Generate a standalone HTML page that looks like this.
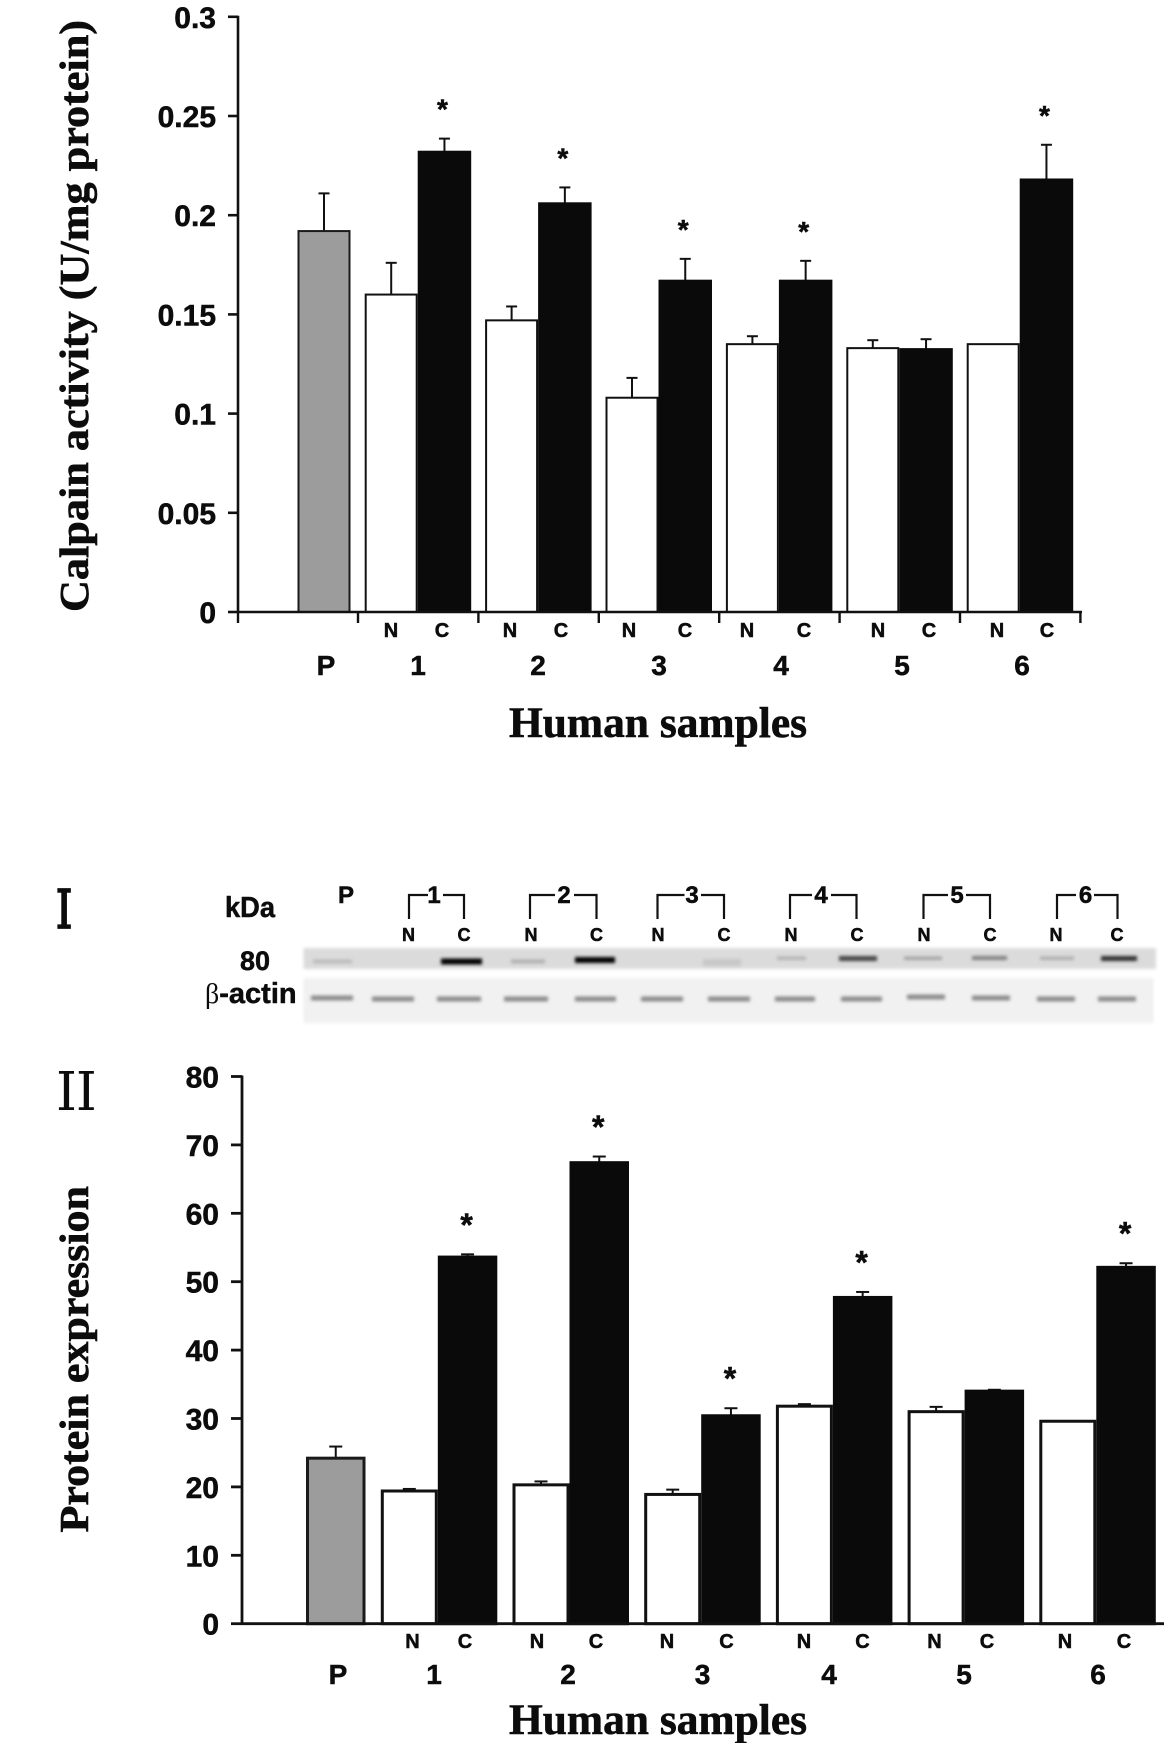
<!DOCTYPE html>
<html lang="en">
<head>
<meta charset="utf-8">
<title>Calpain activity and protein expression in human samples</title>
<style>
html,body{margin:0;padding:0;background:#fff;}
svg{display:block;}
text{fill:#0c0c0c;}
.sans{font-family:"Liberation Sans",Arial,sans-serif;font-weight:bold;stroke:#0c0c0c;stroke-width:.5px;}
.serif{font-family:"Liberation Serif","Times New Roman",serif;font-weight:bold;stroke:#0c0c0c;stroke-width:.6px;}
.tick{font-size:30px;text-anchor:end;}
.nc{font-size:20px;text-anchor:middle;}
.num{font-size:28px;text-anchor:middle;}
.bn{font-size:18px;text-anchor:middle;}
.bt{font-size:24px;text-anchor:middle;}
.bracket{fill:none;stroke:#111;stroke-width:2.2;}
</style>
</head>
<body>
<svg id="figure" xmlns="http://www.w3.org/2000/svg" width="1169" height="1743" viewBox="0 0 1169 1743">
  <defs>
    <filter id="soft" x="-20%" y="-300%" width="140%" height="700%"><feGaussianBlur stdDeviation="1.7"/></filter>
    <filter id="edge" x="-2%" y="-20%" width="104%" height="140%"><feGaussianBlur stdDeviation="1.5"/></filter>
  </defs>
  <rect x="0" y="0" width="1169" height="1743" fill="#fff"/>

  <!-- Top chart static labels -->
  <text class="serif" transform="translate(88,612) rotate(-90)" font-size="41" textLength="592" lengthAdjust="spacingAndGlyphs">Calpain activity (U/mg protein)</text>
  <text class="serif" x="509" y="737" font-size="43" textLength="298" lengthAdjust="spacingAndGlyphs">Human samples</text>
  <g class="sans">
    <text class="nc" x="391" y="637">N</text>
    <text class="nc" x="442" y="637">C</text>
    <text class="nc" x="510" y="637">N</text>
    <text class="nc" x="561" y="637">C</text>
    <text class="nc" x="629" y="637">N</text>
    <text class="nc" x="685" y="637">C</text>
    <text class="nc" x="747" y="637">N</text>
    <text class="nc" x="804" y="637">C</text>
    <text class="nc" x="878" y="637">N</text>
    <text class="nc" x="929" y="637">C</text>
    <text class="nc" x="997" y="637">N</text>
    <text class="nc" x="1047" y="637">C</text>
  </g>
  <g class="sans">
    <text class="num" x="326" y="675">P</text>
    <text class="num" x="418" y="675">1</text>
    <text class="num" x="538" y="675">2</text>
    <text class="num" x="659" y="675">3</text>
    <text class="num" x="781" y="675">4</text>
    <text class="num" x="902" y="675">5</text>
    <text class="num" x="1022" y="675">6</text>
  </g>

  <!-- Western blot panel -->
  <text transform="translate(55.8,928) scale(.8,1)" font-family="'DejaVu Serif',serif" font-size="53" stroke="#0c0c0c" stroke-width="1.8">I</text>
  <text x="56" y="1110" font-family="'DejaVu Serif',serif" font-size="53" letter-spacing="-1">II</text>
  <text class="sans" x="225" y="917" font-size="29" textLength="50" lengthAdjust="spacingAndGlyphs">kDa</text>
  <text class="sans bt" x="346" y="903">P</text>
  <g>
    <path class="bracket" d="M409 919V895H428M443 895H464V919"/>
    <path class="bracket" d="M530 919V895H555M574 895H596.5V919"/>
    <path class="bracket" d="M657.5 919V895H684.5M701 895H724V919"/>
    <path class="bracket" d="M790 919V895H812M831 895H856.5V919"/>
    <path class="bracket" d="M923.5 919V895H948M966 895H990V919"/>
    <path class="bracket" d="M1057 919V895H1076M1094 895H1117.5V919"/>
  </g>
  <g class="sans">
    <text class="bt" x="434" y="903">1</text>
    <text class="bt" x="564" y="903">2</text>
    <text class="bt" x="692" y="903">3</text>
    <text class="bt" x="821" y="903">4</text>
    <text class="bt" x="957" y="903">5</text>
    <text class="bt" x="1085.5" y="903">6</text>
  </g>
  <g class="sans">
    <text class="bn" x="408.5" y="941">N</text>
    <text class="bn" x="464" y="941">C</text>
    <text class="bn" x="531" y="941">N</text>
    <text class="bn" x="596.5" y="941">C</text>
    <text class="bn" x="658" y="941">N</text>
    <text class="bn" x="724" y="941">C</text>
    <text class="bn" x="791" y="941">N</text>
    <text class="bn" x="857" y="941">C</text>
    <text class="bn" x="924" y="941">N</text>
    <text class="bn" x="990" y="941">C</text>
    <text class="bn" x="1056" y="941">N</text>
    <text class="bn" x="1117" y="941">C</text>
  </g>
  <text class="sans" x="240" y="970" font-size="27">80</text>
  <text x="205" y="1003"><tspan font-family="'Liberation Serif',serif" font-size="28">β</tspan><tspan class="sans" font-size="29">-actin</tspan></text>

  <g>
    <rect x="303.5" y="948" width="852.5" height="21" fill="#dbdbdb" filter="url(#edge)"/>
    <g filter="url(#soft)">
      <rect x="313" y="959.5" width="39" height="4" fill="#bbb"/>
      <rect x="441" y="958.5" width="41" height="6" fill="#000"/>
      <rect x="511" y="959.5" width="34" height="4" fill="#b0b0b0"/>
      <rect x="575" y="957" width="40" height="6" fill="#000"/>
      <rect x="703" y="959" width="38" height="7" fill="#c8c8c8"/>
      <rect x="777" y="956.5" width="29" height="3.5" fill="#b4b4b4"/>
      <rect x="839" y="956" width="38" height="5" fill="#444"/>
      <rect x="904" y="956.5" width="38" height="3.5" fill="#a4a4a4"/>
      <rect x="972" y="956" width="35" height="4" fill="#808080"/>
      <rect x="1040" y="956.5" width="34" height="3.5" fill="#aeaeae"/>
      <rect x="1101" y="956" width="36" height="5" fill="#333"/>
    </g>
  </g>
  <g>
    <rect x="303.5" y="978" width="850" height="45" fill="#f1f1f1" filter="url(#edge)"/>
    <g filter="url(#soft)" fill="#8c8c8c">
      <rect x="311" y="995.5" width="42" height="5"/>
      <rect x="372" y="996.5" width="42" height="5"/>
      <rect x="437" y="996.5" width="44" height="5"/>
      <rect x="504" y="996.5" width="44" height="5"/>
      <rect x="575" y="996.5" width="41" height="5"/>
      <rect x="641" y="996.5" width="42" height="5"/>
      <rect x="708" y="996.5" width="42" height="5"/>
      <rect x="775" y="996.5" width="40" height="5"/>
      <rect x="841" y="996.5" width="41" height="5"/>
      <rect x="907" y="994.5" width="38" height="5"/>
      <rect x="972" y="995.5" width="38" height="5"/>
      <rect x="1037" y="996.5" width="38" height="5"/>
      <rect x="1098" y="996.5" width="38" height="5"/>
    </g>
  </g>

  <!-- Bottom chart static labels -->
  <text class="serif" transform="translate(88,1532.5) rotate(-90)" font-size="41" textLength="346.5" lengthAdjust="spacingAndGlyphs">Protein expression</text>
  <text class="serif" x="509" y="1734" font-size="43" textLength="298" lengthAdjust="spacingAndGlyphs">Human samples</text>
  <g class="sans">
    <text class="nc" x="412.5" y="1648">N</text>
    <text class="nc" x="465" y="1648">C</text>
    <text class="nc" x="537" y="1648">N</text>
    <text class="nc" x="596" y="1648">C</text>
    <text class="nc" x="667" y="1648">N</text>
    <text class="nc" x="726.5" y="1648">C</text>
    <text class="nc" x="804" y="1648">N</text>
    <text class="nc" x="862.5" y="1648">C</text>
    <text class="nc" x="934.5" y="1648">N</text>
    <text class="nc" x="987" y="1648">C</text>
    <text class="nc" x="1065" y="1648">N</text>
    <text class="nc" x="1124" y="1648">C</text>
  </g>
  <g class="sans">
    <text class="num" x="338" y="1684">P</text>
    <text class="num" x="434" y="1684">1</text>
    <text class="num" x="568" y="1684">2</text>
    <text class="num" x="702.5" y="1684">3</text>
    <text class="num" x="829" y="1684">4</text>
    <text class="num" x="964" y="1684">5</text>
    <text class="num" x="1098" y="1684">6</text>
  </g>
</svg>
<script>
// Calpain activity chart data
const calpainTickValues = [0, 0.05, 0.1, 0.15, 0.2, 0.25, 0.3];
const calpainTickLabels = ['0', '0.05', '0.1', '0.15', '0.2', '0.25', '0.3'];
const calpainPooled = [0.192];
const calpainPooledUpper = [0.211];
const calpainNormal = [0.160, 0.147, 0.108, 0.135, 0.133, 0.135];
const calpainNormalUpper = [0.176, 0.154, 0.118, 0.139, 0.137, 0.135];
const calpainCancer = [0.232, 0.206, 0.167, 0.167, 0.1325, 0.218];
const calpainCancerUpper = [0.2386, 0.214, 0.178, 0.177, 0.1375, 0.2355];
const calpainSignificant = [true, true, true, true, false, true];

// Protein expression chart data
const proteinTickValues = [0, 10, 20, 30, 40, 50, 60, 70, 80];
const proteinTickLabels = ['0', '10', '20', '30', '40', '50', '60', '70', '80'];
const proteinPooled = [24.2];
const proteinPooledUpper = [25.9];
const proteinNormal = [19.4, 20.3, 18.9, 31.8, 31.0, 29.6];
const proteinNormalUpper = [19.7, 20.8, 19.6, 32.1, 31.7, 29.6];
const proteinCancer = [53.6, 67.4, 30.4, 47.7, 34.0, 52.1];
const proteinCancerUpper = [54.0, 68.3, 31.5, 48.5, 34.2, 52.7];
const proteinSignificant = [true, true, true, true, false, true];

const NS = 'http://www.w3.org/2000/svg';
const figure = document.getElementById('figure');

function make(tag, attrs, parent) {
  const node = document.createElementNS(NS, tag);
  for (const key in attrs) node.setAttribute(key, attrs[key]);
  parent.appendChild(node);
  return node;
}

function drawChart(cfg) {
  const yScale = function (v) { return cfg.y0 - v * cfg.pxPerUnit; };
  const xGroup = function (i) { return cfg.groupStart + i * cfg.groupStep; };

  const chart = make('g', {}, figure);
  
  

  // y ticks and labels
  cfg.tickValues.forEach(function (v, i) {
    const y = yScale(v);
    const tick = make('line', { x1: cfg.axisX - cfg.tickLen, x2: cfg.axisX, y1: y, y2: y, stroke: '#111', 'stroke-width': cfg.axisWidth }, chart);
    
    
    const label = make('text', { x: cfg.labelRight, y: y + 11, class: 'sans tick' }, chart);
    
    
    label.textContent = cfg.tickLabels[i];
  });

  // bars and error bars
  function bar(value, upper, x, w, fill, stroke, name) {
    const top = yScale(value);
    const upperY = yScale(upper);
    const mid = x + w / 2;
    if (upper > value) {
      const stem = make('line', { x1: mid, x2: mid, y1: top, y2: upperY, stroke: '#111', 'stroke-width': 2 }, chart);
      
      
      const cap = make('line', { x1: mid - cfg.capHalf, x2: mid + cfg.capHalf, y1: upperY, y2: upperY, stroke: '#111', 'stroke-width': 2 }, chart);
      
      
    }
    const half = cfg.barStroke / 2;
    const rect = make('rect', { x: x + half, y: top, width: w - cfg.barStroke, height: cfg.y0 - top, fill: fill, stroke: stroke, 'stroke-width': cfg.barStroke }, chart);
    
    
  }

  cfg.pooled.forEach(function (v, i) {
    bar(v, cfg.pooledUpper[i], cfg.pooledX, cfg.pooledW, '#9c9c9c', '#1a1a1a', cfg.id + '-bar-pooled');
  });
  cfg.normal.forEach(function (v, i) {
    bar(v, cfg.normalUpper[i], xGroup(i), cfg.normalW, '#ffffff', '#111', cfg.id + '-bar-normal');
  });
  cfg.cancer.forEach(function (v, i) {
    bar(v, cfg.cancerUpper[i], xGroup(i) + cfg.normalW, cfg.cancerW, '#0a0a0a', '#0a0a0a', cfg.id + '-bar-cancer');
    if (cfg.significant[i]) {
      const star = make('text', { x: xGroup(i) + cfg.normalW + cfg.cancerW / 2 + cfg.starNudge, y: yScale(cfg.cancerUpper[i]) - cfg.starGap, class: 'sans', 'text-anchor': 'middle', 'font-size': cfg.starSize }, chart);
      
      
      star.textContent = '*';
    }
  });

  // axes
  const yAxis = make('line', { x1: cfg.axisX, x2: cfg.axisX, y1: yScale(cfg.tickValues[cfg.tickValues.length - 1]) - 1, y2: cfg.y0 + 1, stroke: '#111', 'stroke-width': cfg.axisWidth }, chart);
  
  
  const xAxis = make('line', { x1: cfg.axisX, x2: cfg.xEnd, y1: cfg.y0, y2: cfg.y0, stroke: '#111', 'stroke-width': cfg.axisWidth }, chart);
  
  

  if (cfg.xTickLen) {
    for (let i = 0; i <= cfg.normal.length + 1; i++) {
      const x = i === 0 ? cfg.axisX : cfg.xTickStart + (i - 1) * cfg.xTickStep;
      const xTick = make('line', { x1: x, x2: x, y1: cfg.y0, y2: cfg.y0 + cfg.xTickLen, stroke: '#111', 'stroke-width': 2.4 }, chart);
      
      
    }
  }
}

drawChart({
  id: 'calpain',
  tickValues: calpainTickValues, tickLabels: calpainTickLabels,
  pooled: calpainPooled, pooledUpper: calpainPooledUpper,
  normal: calpainNormal, normalUpper: calpainNormalUpper,
  cancer: calpainCancer, cancerUpper: calpainCancerUpper,
  significant: calpainSignificant,
  y0: 612, pxPerUnit: 1984, axisX: 238, tickLen: 10, axisWidth: 2.6, labelRight: 216,
  groupStart: 364.7, groupStep: 120.4, normalW: 53, cancerW: 53.5,
  pooledX: 297.5, pooledW: 53, barStroke: 2, capHalf: 5.5,
  xEnd: 1082, xTickLen: 11, xTickStart: 358, xTickStep: 120.4,
  starGap: 20, starSize: 28, starNudge: -2
});

drawChart({
  id: 'protein',
  tickValues: proteinTickValues, tickLabels: proteinTickLabels,
  pooled: proteinPooled, pooledUpper: proteinPooledUpper,
  normal: proteinNormal, normalUpper: proteinNormalUpper,
  cancer: proteinCancer, cancerUpper: proteinCancerUpper,
  significant: proteinSignificant,
  y0: 1623.7, pxPerUnit: 6.84, axisX: 242, tickLen: 11, axisWidth: 2.8, labelRight: 219,
  groupStart: 380.8, groupStep: 131.7, normalW: 57, cancerW: 59.5,
  pooledX: 306, pooledW: 59.5, barStroke: 3, capHalf: 6.5,
  xEnd: 1164, xTickLen: 0, xTickStart: 0, xTickStep: 0,
  starGap: 18.5, starSize: 32, starNudge: -1
});
</script>
</body>
</html>
